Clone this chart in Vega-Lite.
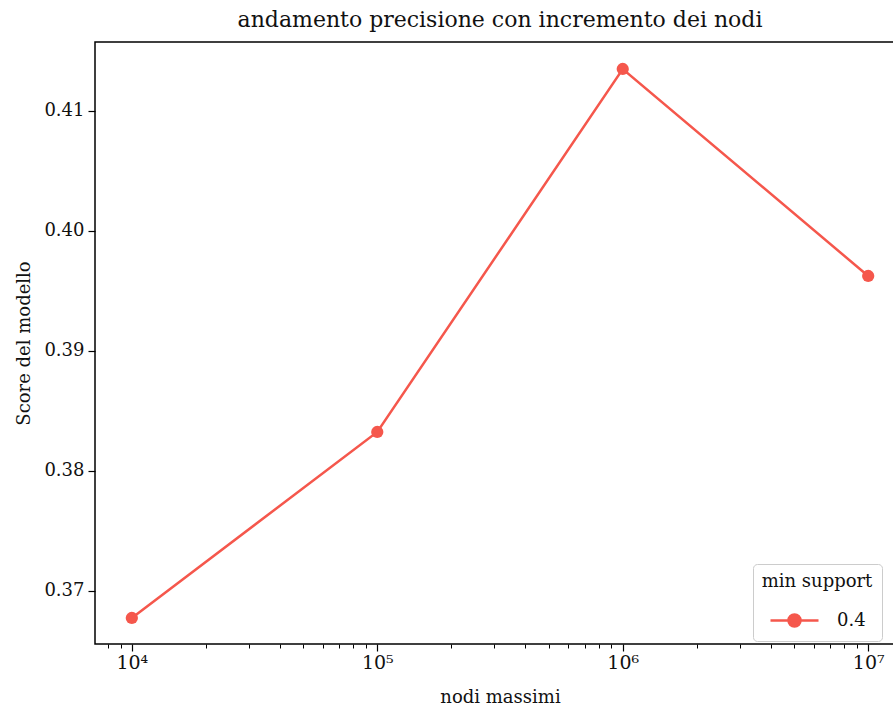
{
  "$schema": "https://vega.github.io/schema/vega-lite/v6.json",
  "width": 810,
  "height": 602,
  "autosize": "none",
  "padding": {"left": 95, "top": 42, "right": 0, "bottom": 66},
  "background": "white",
  "title": {"text": "andamento precisione con incremento dei nodi", "fontSize": 22, "font": "DejaVu Serif", "fontWeight": "normal", "offset": 10, "color": "#111"},
  "config": {
    "font": "DejaVu Serif",
    "view": {"stroke": "black", "strokeWidth": 1.5},
    "axis": {"grid": false, "domain": false, "labelFont": "DejaVu Serif", "titleFont": "DejaVu Serif", "labelColor": "#111", "titleColor": "#111", "titleFontWeight": "normal", "tickColor": "black", "tickWidth": 1.2}
  },
  "data": {"values": [
    {"nodi": 10000, "score": 0.36775, "min_support": "0.4"},
    {"nodi": 100000, "score": 0.38325, "min_support": "0.4"},
    {"nodi": 1000000, "score": 0.4135, "min_support": "0.4"},
    {"nodi": 10000000, "score": 0.39625, "min_support": "0.4"}
  ]},
  "layer": [
    {
      "mark": {"type": "point", "opacity": 0},
      "encoding": {
        "x": {"field": "nodi", "type": "quantitative",
          "scale": {"type": "log", "domain": [7079, 14125375], "nice": false},
          "axis": {"orient": "bottom", "values": [7000, 8000, 9000, 20000, 30000, 40000, 50000, 60000, 70000, 80000, 90000, 200000, 300000, 400000, 500000, 600000, 700000, 800000, 900000, 2000000, 3000000, 4000000, 5000000, 6000000, 7000000, 8000000, 9000000], "labels": false, "tickSize": 4, "tickWidth": 1, "title": null}}
      }
    },
    {
      "mark": {"type": "line", "point": {"filled": true, "size": 150, "opacity": 1}, "strokeWidth": 2.5},
      "encoding": {
        "x": {"field": "nodi", "type": "quantitative",
          "scale": {"type": "log", "domain": [7079, 14125375], "nice": false},
          "axis": {"orient": "bottom", "values": [10000, 100000, 1000000, 10000000], "labelExpr": "datum.value == 10000 ? '10⁴' : datum.value == 100000 ? '10⁵' : datum.value == 1000000 ? '10⁶' : '10⁷'", "labelFontSize": 19, "labelPadding": 2, "tickSize": 7, "title": "nodi massimi", "titleFontSize": 18, "titlePadding": 16}},
        "y": {"field": "score", "type": "quantitative",
          "scale": {"domain": [0.36558, 0.41575], "nice": false, "zero": false},
          "axis": {"values": [0.37, 0.38, 0.39, 0.4, 0.41], "format": ".2f", "labelFontSize": 18, "labelPadding": 4, "tickSize": 7, "title": "Score del modello", "titleFontSize": 18, "titlePadding": 10}},
        "color": {"field": "min_support", "type": "nominal",
          "scale": {"range": ["#f5574c"]},
          "legend": {"title": "min support", "orient": "none", "legendX": 658, "legendY": 522,
            "titleFontSize": 18, "titleFontWeight": "normal", "titleAnchor": "middle", "titleColor": "#111", "titlePadding": 4,
            "labelFontSize": 18, "labelColor": "#111",
            "symbolType": "M -1 0 L 1 0 M 0.25 0 A 0.25 0.25 0 1 1 -0.25 0 A 0.25 0.25 0 1 1 0.25 0",
            "symbolSize": 2304, "symbolStrokeWidth": 2.5, "symbolFillColor": "#f5574c", "symbolStrokeColor": "#f5574c", "symbolOpacity": 1,
            "fillColor": "white", "strokeColor": "#cccccc", "cornerRadius": 4, "padding": 9, "labelOffset": 17}}
      }
    }
  ],
  "resolve": {"axis": {"x": "independent"}}
}
